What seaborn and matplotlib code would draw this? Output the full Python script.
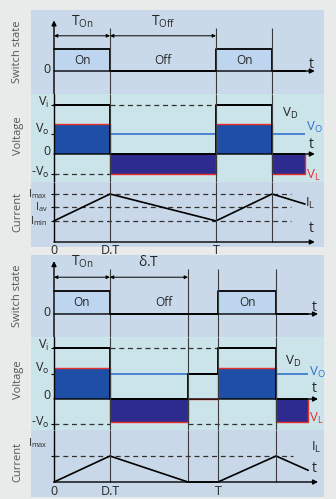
import itertools
import matplotlib.pyplot as plt
import seaborn as sns

sns.set_theme(style="white")
plt.rcParams['font.family'] = ['Open Sans', 'DejaVu Sans']
plt.rcParams['mathtext.fontset'] = 'custom'
plt.rcParams['mathtext.rm'] = 'Open Sans'
plt.rcParams['mathtext.it'] = 'Open Sans:italic'
plt.rcParams['mathtext.default'] = 'regular'

# top diagram: continuous conduction (time in periods, levels in units of Vi / Imax)
ccm_t = [0.0, 0.346, 1.0, 1.346, 1.55]
ccm_state = [1, 0, 1, 0]
ccm_vd = [1.0, 0.0, 1.0, 0.0]
ccm_vl = [0.61, -0.41, 0.61, -0.41]
ccm_vo = 0.41
ccm_il = [0.44, 1.0, 0.44, 1.0, 0.79]
ccm_ilev = [1.0, 0.73, 0.44]
ccm_ilab = ['I$_{max}$', 'I$_{av}$', 'I$_{min}$']
ccm_neg_dash = [(0.0, 0.346)]

# bottom diagram: discontinuous conduction
dcm_t = [0.0, 0.341, 0.817, 1.0, 1.354, 1.55]
dcm_state = [1, 0, 0, 1, 0]
dcm_vd = [1.0, 0.0, 0.49, 1.0, 0.0]
dcm_vl = [0.61, -0.45, 0.0, 0.61, -0.45]
dcm_vo = 0.49
dcm_il = [0.0, 1.0, 0.0, 0.0, 1.0, 0.45]
dcm_ilev = [1.0]
dcm_ilab = ['I$_{max}$']
dcm_neg_dash = [(0.0, 0.341), (0.817, 1.354)]

W, H = 336, 499
fig = plt.figure(figsize=(W / 100, H / 100), dpi=100, facecolor='#e9eaea')

c_sw, c_volt, c_cur = '#c9d9ea', '#cbe4e9', '#c9d8e8'
c_box = '#bdd5ef'
c_on, c_off = '#1f4ea6', '#2d2b8e'
c_red, c_blue = '#e8302c', '#3573cf'
c_dash = '#333333'
c_grid = '#3a3a3a'


def add_row(top, bottom, zero_px, unit_px, per_px, color, x0_px=54, left=31, right=324):
    ax = fig.add_axes([left / W, 1 - bottom / H, (right - left) / W, (bottom - top) / H])
    ax.set_xlim((left - x0_px) / per_px, (right - x0_px) / per_px)
    ax.set_ylim((zero_px - bottom) / unit_px, (zero_px - top) / unit_px)
    ax.set_facecolor(color)
    for s in ax.spines.values():
        s.set_visible(False)
    ax.set_xticks([])
    ax.set_yticks([])
    return ax


def arrow(ax, x0, y0, x1, y1, style='-|>', lw=1.0, ms=7):
    ax.annotate('', xy=(x1, y1), xytext=(x0, y0),
                arrowprops=dict(arrowstyle=style, lw=lw, color='black',
                                mutation_scale=ms, shrinkA=0, shrinkB=0))


def ticks(ax, levels):
    ax.set_yticks(levels)
    ax.set_yticklabels([])
    ax.tick_params(axis='y', direction='inout', length=5, width=0.8, color='black', left=True)
    ax.spines['left'].set_position(('data', 0))


def draw(t, state, vd, vl, vo, il, ilev, ilab, neg_dash, rows, per_px, mid_label, mid_end, lab):
    sw, vt, cu = rows
    end = t[-1]
    tip = end + 0.06
    marks = t[1:-1]

    # switch state
    ax = add_row(sw[0], sw[1], sw[2], sw[3], per_px, c_sw)
    lo = ax.get_ylim()[0]
    for a, b, s in zip(t[:-1], t[1:], state):
        if s:
            ax.fill_between([a, b], 0, 1, color=c_box, lw=0)
    ax.step(t, state + [state[-1]], where='post', color='black', lw=1.3)
    ax.vlines(marks, lo, 1.95, color=c_grid, lw=0.8)
    arrow(ax, 0, lo, 0, 2.3)
    arrow(ax, 0, 0, tip, 0)
    pos = 0
    runs = [(k, len(list(g))) for k, g in itertools.groupby(state)]
    for k, n in runs[:-1]:
        a, b = t[pos], t[pos + n]
        ax.text((a + b) / 2, 0.5, 'On' if k else 'Off', ha='center', va='center', fontsize=8.5)
        pos += n
    arrow(ax, 0, 1.6, t[1], 1.6, style='<|-|>', lw=0.7, ms=5)
    arrow(ax, t[1], 1.6, mid_end, 1.6, style='<|-|>', lw=0.7, ms=5)
    ax.text(t[1] / 2, 2.25, 'T$_{On}$', ha='center', va='center', fontsize=10)
    ax.text((t[1] + mid_end) / 2, 2.25, mid_label, ha='center', va='center', fontsize=10)
    ax.text(-0.02, 0.05, '0', ha='right', va='center', fontsize=9)
    ax.text(tip - 0.02, 0.3, 't', ha='center', va='center', fontsize=10)

    # voltage
    ax = add_row(vt[0], vt[1], vt[2], vt[3], per_px, c_volt)
    ax.hlines(vo, t[1], end, color=c_blue, lw=1.2, zorder=1)
    for a, b, v in zip(t[:-1], t[1:], vl):
        if v != 0:
            ax.fill_between([a, b], 0, v, color=c_on if v > 0 else c_off, lw=0, zorder=2)
    ax.step(t, vl + [vl[-1]], where='post', color=c_red, lw=1.0, zorder=3)
    ax.vlines(end, vl[-1], 0, color=c_red, lw=1.0, zorder=3)
    ax.step(t[:-1], vd, where='post', color='black', lw=1.3, zorder=4)
    for a, b, v in zip(t[:-1], t[1:], vd):
        ax.hlines(v, a, b, color='black', lw=1.3, zorder=4)
    for i, (a, b, v) in enumerate(zip(t[:-1], t[1:], vd)):
        if v < 1 and i < len(vd) - 1:
            ax.hlines(1.0, a, b, color=c_dash, lw=0.9, ls=(0, (4, 3)), zorder=1)
    for a, b in neg_dash:
        ax.hlines(-vo, a, b, color=c_dash, lw=0.9, ls=(0, (4, 3)), zorder=5)
    ax.axvline(0, color='black', lw=1.0, zorder=5)
    ax.vlines(marks, *ax.get_ylim(), color=c_grid, lw=0.8, zorder=5)
    arrow(ax, 0, 0, tip, 0)
    ticks(ax, [1.0, vo, -vo])
    ax.text(-0.03, 1.05, 'V$_{i}$', ha='right', va='center', fontsize=9)
    ax.text(-0.03, vo + 0.1, 'V$_{o}$', ha='right', va='center', fontsize=9)
    ax.text(-0.02, 0.06, '0', ha='right', va='center', fontsize=9)
    ax.text(-0.03, -vo + 0.03, '-V$_{o}$', ha='right', va='center', fontsize=9)
    ax.text(1.41, lab['vd'], 'V$_{D}$', ha='left', va='center', fontsize=9.5)
    ax.text(end + 0.005, lab['vo'], 'V$_{O}$', ha='left', va='center', fontsize=9.5, color=c_blue)
    ax.text(tip - 0.02, 0.2, 't', ha='center', va='center', fontsize=10)
    ax.text(end + 0.005, lab['vl'], 'V$_{L}$', ha='left', va='center', fontsize=9.5, color=c_red)

    # current
    ax = add_row(cu[0], cu[1], cu[2], cu[3], per_px, c_cur)
    top = ax.get_ylim()[1]
    for lv in ilev:
        ax.hlines(lv, 0, 1.46, color=c_dash, lw=0.9, ls=(0, (4, 3)))
    ax.plot(t, il, color='black', lw=1.2)
    ax.vlines(0, 0, top, color='black', lw=1.0)
    ax.vlines(marks, 0, top, color=c_grid, lw=0.8)
    arrow(ax, 0, 0, tip, 0)
    ticks(ax, ilev)
    ax.spines['left'].set_visible(False)
    for lv, lb in zip(ilev, ilab):
        ax.text(-0.04, lv + lab['ioff'], lb, ha='right', va='center', fontsize=7.5)
    ax.text(tip - 0.02, lab['t'], 't', ha='center', va='center', fontsize=10)
    ax.text(lab['il'][0], lab['il'][1], 'I$_{L}$', ha='left', va='center', fontsize=9.5)
    for x, s in zip([0, t[1], 1.0], ['0', 'D.T', 'T']):
        ax.text(x, lab['x'], s, ha='center', va='center', fontsize=9)
    return ax


draw(ccm_t, ccm_state, ccm_vd, ccm_vl, ccm_vo, ccm_il, ccm_ilev, ccm_ilab, ccm_neg_dash,
     [(10, 94, 71, 22), (94, 182, 154, 49), (182, 247, 242, 48)], 162,
     'T$_{Off}$', 1.0,
     dict(vd=0.82, vo=0.55, vl=-0.44, ioff=0.0, t=0.29, il=(1.55, 0.8), x=-0.17))
draw(dcm_t, dcm_state, dcm_vd, dcm_vl, dcm_vo, dcm_il, dcm_ilev, dcm_ilab, dcm_neg_dash,
     [(255, 337, 314, 23), (337, 430, 399, 51), (430, 497, 482, 26)], 164,
     '$\\delta$.T', 0.817,
     dict(vd=0.73, vo=0.52, vl=-0.38, ioff=0.5, t=0.5, il=(1.57, 1.33), x=-0.38))

for y, lab in [(52, 'Switch state'), (136, 'Voltage'), (212, 'Current'),
               (296, 'Switch state'), (380, 'Voltage'), (462, 'Current')]:
    fig.text(18 / W, 1 - y / H, lab, rotation=90, ha='center', va='center',
             fontsize=8, color='#555555')

fig.savefig('out.png', dpi=100, facecolor=fig.get_facecolor())
